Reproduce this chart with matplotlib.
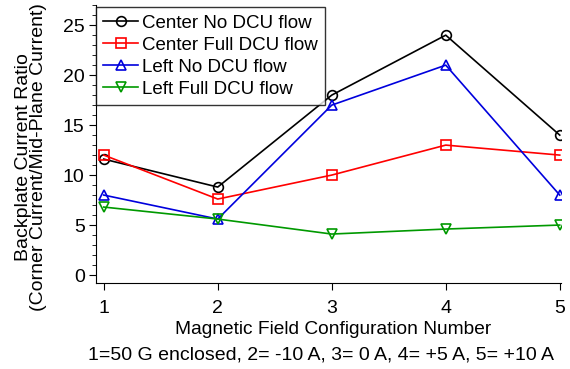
import matplotlib
matplotlib.use("Agg")
import matplotlib.pyplot as plt
from matplotlib.ticker import MultipleLocator

plt.rcParams['font.family'] = ['Liberation Sans', 'DejaVu Sans']

config = [1, 2, 3, 4, 5]
center_no = [11.6, 8.8, 18.0, 24.0, 14.0]
center_full = [12.0, 7.6, 10.0, 13.0, 12.0]
left_no = [8.0, 5.6, 17.0, 21.0, 8.0]
left_full = [6.8, 5.6, 4.1, 4.6, 5.0]
labels = ["Center No DCU flow", "Center Full DCU flow", "Left No DCU flow", "Left Full DCU flow"]
xlabel = "Magnetic Field Configuration Number"
xnote = "1=50 G enclosed, 2= -10 A, 3= 0 A, 4= +5 A, 5= +10 A"
ylabel = "Backplate Current Ratio\n(Corner Current/Mid-Plane Current)"

FS = 14
fig = plt.figure(figsize=(5.7, 3.69), dpi=100)
ax = fig.add_axes([0.168, 0.233, 0.816, 0.753])

kw = dict(lw=1.2, ms=7, mfc='none', mew=1.2)
ax.plot(config, center_no, color='black', marker='o', label=labels[0], **kw)
ax.plot(config, center_full, color='red', marker='s', label=labels[1], **kw)
ax.plot(config, left_no, color='#0000dd', marker='^', label=labels[2], **kw)
ax.plot(config, left_full, color='#009900', marker='v', label=labels[3], **kw)

ax.set_xlim(0.93, 5.01)
ax.set_ylim(-0.8, 27)
ax.set_xticks(config)
ax.yaxis.set_major_locator(MultipleLocator(5))
ax.yaxis.set_minor_locator(MultipleLocator(1))
ax.spines['top'].set_visible(False)
ax.spines['right'].set_visible(False)
ax.tick_params(axis='both', labelsize=FS, direction='out')
ax.tick_params(axis='y', which='major', length=5, pad=3)
ax.tick_params(axis='y', which='minor', length=3)
ax.tick_params(axis='x', length=5, pad=7)

ax.set_xlabel(xlabel, fontsize=13.8)
ax.xaxis.set_label_coords(0.51, -0.137)
fig.text(321 / 570, 1 - 355 / 369, xnote, fontsize=FS, ha='center', va='center')
ax.set_ylabel(ylabel, fontsize=FS, linespacing=0.85)
ax.yaxis.set_label_coords(-0.105, 0.455)

leg = ax.legend(loc='upper left', bbox_to_anchor=(0.0, 0.993), fontsize=13.5, frameon=True,
                fancybox=False, edgecolor='black', handlelength=1.87, borderaxespad=0,
                labelspacing=0.26, handletextpad=0.2, borderpad=0.4)
leg.get_frame().set_linewidth(1.0)

fig.savefig("out.png", dpi=100)
